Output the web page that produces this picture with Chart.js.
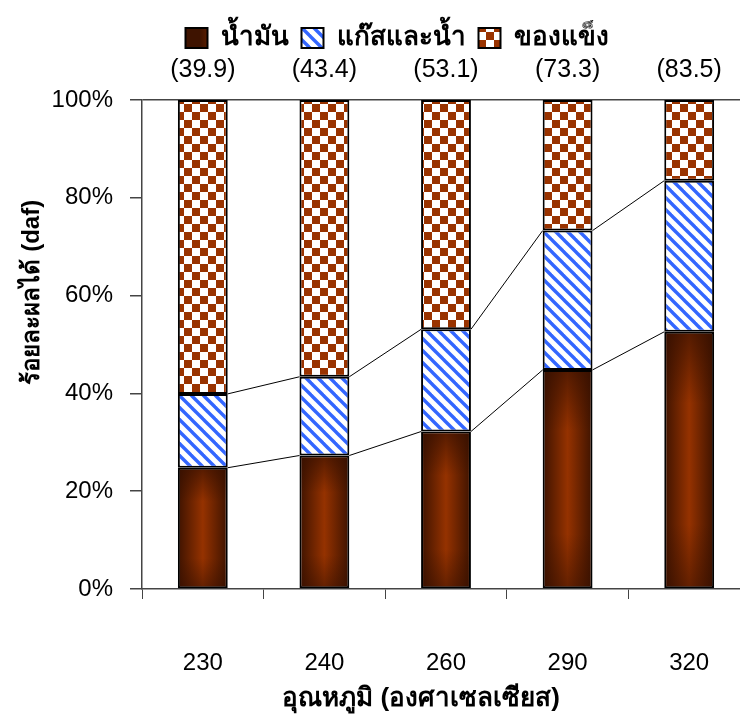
<!DOCTYPE html>
<html>
<head>
<meta charset="utf-8">
<script src="https://cdn.jsdelivr.net/npm/chart.js@4.4.1/dist/chart.umd.min.js"></script>
<style>
  html, body { margin: 0; padding: 0; background: #fff; overflow: hidden; }
  #wrap { position: relative; width: 750px; height: 722px; }
</style>
</head>
<body>
<div id="wrap"><canvas id="yieldChart"></canvas></div>
<script>
// อุณหภูมิ (°C) และผลได้แต่ละส่วน (%, daf)
var temps = ['230', '240', '260', '290', '320'];
var conversion = [39.9, 43.4, 53.1, 73.3, 83.5];      // น้ำมัน + แก๊สและน้ำ
var oilYield = [24.8, 27.3, 32.2, 44.8, 52.6];
var gasWaterYield = [15.1, 16.1, 20.9, 28.5, 30.9];
var solidYield = [60.1, 56.6, 46.9, 26.7, 16.5];

var FONT = '"Liberation Sans", Arial, sans-serif';
var BAR_RATIO = 0.41;

// ลายเส้นทแยงสีฟ้า
function stripePattern() {
    var c = document.createElement('canvas');
    c.width = 12; c.height = 12;
    var g = c.getContext('2d');
    g.fillStyle = '#ffffff';
    g.fillRect(0, 0, 12, 12);
    g.strokeStyle = '#3366ff';
    g.lineWidth = 3.4;
    [-12, 0, 12].forEach(function (o) {
        g.beginPath();
        g.moveTo(o - 2, -2);
        g.lineTo(o + 14, 14);
        g.stroke();
    });
    return g.createPattern(c, 'repeat');
}

// ลายตารางหมากรุก
function checkerPattern() {
    var c = document.createElement('canvas');
    c.width = 16; c.height = 16;
    var g = c.getContext('2d');
    g.fillStyle = '#ffffff';
    g.fillRect(0, 0, 16, 16);
    g.fillStyle = '#993300';
    g.fillRect(0, 0, 8, 8);
    g.fillRect(8, 8, 8, 8);
    return g.createPattern(c, 'repeat');
}

// ไล่สีแท่งน้ำมัน (เข้มที่ขอบ สว่างตรงกลาง)
function oilFill(ctx) {
    var chart = ctx.chart;
    if (!chart.chartArea || ctx.dataIndex === undefined) return '#6e2400';
    var xs = chart.scales.x;
    var cx = xs.getPixelForValue(ctx.dataIndex);
    var half = xs.width / temps.length * BAR_RATIO / 2;
    var grad = chart.ctx.createLinearGradient(cx - half, 0, cx + half, 0);
    grad.addColorStop(0, '#3e1300');
    grad.addColorStop(0.5, '#953200');
    grad.addColorStop(1, '#3e1300');
    return grad;
}

// เงาด้านบน/ล่างของแท่งน้ำมัน
var oilShade = {
    id: 'oilShade',
    afterDatasetDraw: function (chart, args) {
        if (args.index !== 0) return;
        var ctx = chart.ctx;
        args.meta.data.forEach(function (bar) {
            var h = bar.base - bar.y;
            var l = bar.x - bar.width / 2;
            var grad = ctx.createLinearGradient(0, bar.y, 0, bar.base);
            grad.addColorStop(0, 'rgba(50,14,0,0.65)');
            grad.addColorStop(0.28, 'rgba(50,14,0,0)');
            grad.addColorStop(0.75, 'rgba(50,14,0,0)');
            grad.addColorStop(1, 'rgba(50,14,0,0.5)');
            ctx.save();
            ctx.fillStyle = grad;
            ctx.fillRect(l + 2, bar.y + 2, bar.width - 4, h - 4);
            ctx.restore();
        });
    }
};

// เส้นเชื่อมระหว่างแท่ง
var seriesLines = {
    id: 'seriesLines',
    afterDatasetsDraw: function (chart) {
        var ctx = chart.ctx;
        ctx.save();
        ctx.strokeStyle = '#000';
        ctx.lineWidth = 1;
        [0, 1].forEach(function (di) {
            var bars = chart.getDatasetMeta(di).data;
            for (var i = 0; i < bars.length - 1; i++) {
                var a = bars[i], b = bars[i + 1];
                ctx.beginPath();
                ctx.moveTo(a.x + a.width / 2, a.y);
                ctx.lineTo(b.x - b.width / 2, b.y);
                ctx.stroke();
            }
        });
        ctx.restore();
    }
};

// ค่าการเปลี่ยนแปลงเหนือแต่ละแท่ง + ชื่อแกน
var chartText = {
    id: 'chartText',
    afterDraw: function (chart) {
        var ctx = chart.ctx;
        var xs = chart.scales.x;
        var area = chart.chartArea;
        ctx.save();
        ctx.fillStyle = '#000';
        ctx.textAlign = 'center';
        ctx.textBaseline = 'middle';

        ctx.font = '25px ' + FONT;
        conversion.forEach(function (v, i) {
            ctx.fillText('(' + v.toFixed(1) + ')', xs.getPixelForValue(i), area.top - 30);
        });

        ctx.font = 'bold 26px ' + FONT;
        ctx.fillText('อุณหภูมิ (องศาเซลเซียส)', area.left + (area.right - area.left) * 0.459, area.bottom + 110);

        ctx.translate(32, area.top + (area.bottom - area.top) * 0.393);
        ctx.rotate(-Math.PI / 2);
        ctx.font = 'bold 24px ' + FONT;
        ctx.fillText('ร้อยละผลได้ (daf)', 0, 0);
        ctx.restore();
    }
};

// เว้นที่ว่างใต้คำอธิบายสัญลักษณ์ และเลื่อนไปทางขวาเล็กน้อย
var legendPlace = {
    id: 'legendPlace',
    beforeInit: function (chart) {
        var legend = chart.legend;
        var fit = legend.fit;
        legend.fit = function () {
            fit.bind(legend)();
            this.height = 88;
        };
        var draw = legend.draw;
        legend.draw = function () {
            chart.ctx.save();
            chart.ctx.translate(22, 0);
            draw.apply(legend, arguments);
            chart.ctx.restore();
        };
    }
};

var ctx = document.getElementById('yieldChart').getContext('2d');
var stripes = stripePattern();
var checker = checkerPattern();

var chartData = {
    labels: temps,
    datasets: [
        { label: 'น้ำมัน', data: oilYield, backgroundColor: oilFill },
        { label: 'แก๊สและน้ำ', data: gasWaterYield, backgroundColor: stripes },
        { label: 'ของแข็ง', data: solidYield, backgroundColor: checker }
    ]
};
chartData.datasets.forEach(function (ds) {
    ds.borderColor = '#000';
    ds.borderWidth = 2;
    ds.borderSkipped = false;
    ds.barPercentage = BAR_RATIO;
    ds.categoryPercentage = 1;
});

new Chart(ctx, {
    type: 'bar',
    data: chartData,
    plugins: [legendPlace, oilShade, seriesLines, chartText],
    options: {
        responsive: true,
        maintainAspectRatio: false,
        animation: false,
        layout: { padding: { top: 12, left: 0, right: 0, bottom: 0 } },
        plugins: {
            tooltip: { enabled: false },
            legend: {
                position: 'top',
                align: 'center',
                labels: {
                    color: '#000',
                    font: { family: FONT, size: 26, weight: 'bold' },
                    boxWidth: 22,
                    boxHeight: 20,
                    padding: 13
                }
            }
        },
        scales: {
            x: {
                stacked: true,
                afterFit: function (scale) {
                    scale.height = 133;
                    // แกนยาวจนสุดขอบขวา
                    scale.paddingLeft = 0;
                    scale.paddingRight = 0;
                },
                grid: {
                    offset: true,
                    drawOnChartArea: false,
                    tickLength: 10,
                    tickColor: '#444'
                },
                border: { color: '#444', width: 1.5 },
                ticks: {
                    color: '#000',
                    padding: 50,
                    font: { family: FONT, size: 24 }
                }
            },
            y: {
                stacked: true,
                min: 0,
                max: 100,
                afterFit: function (scale) { scale.width = 142; },
                grid: {
                    color: function (c) { return c.tick && c.tick.value === 100 ? '#444' : 'rgba(0,0,0,0)'; },
                    lineWidth: 1.5,
                    tickLength: 12,
                    tickColor: '#444'
                },
                border: { color: '#444', width: 1.5 },
                ticks: {
                    stepSize: 20,
                    color: '#000',
                    padding: 17,
                    font: { family: FONT, size: 24 },
                    callback: function (v) { return v + '%'; }
                }
            }
        }
    }
});
</script>
</body>
</html>
